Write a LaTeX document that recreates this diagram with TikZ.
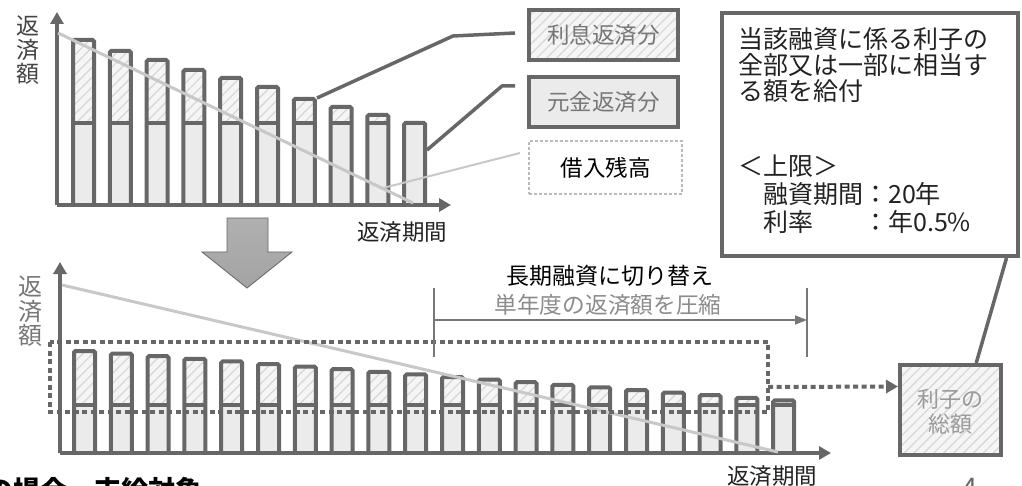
\documentclass[tikz,border=0pt]{standalone}
\usepackage{fontspec}
\setmainfont{Noto Sans CJK JP}
\usetikzlibrary{arrows.meta,patterns.meta,calc}
\definecolor{dk}{HTML}{676767}
\definecolor{hb}{HTML}{F5F5F5}
\definecolor{hl}{HTML}{D6D6D6}
\definecolor{pf}{HTML}{EBEBEB}
\definecolor{balc}{HTML}{C8C8C8}
\definecolor{tg}{HTML}{777777}
\definecolor{tl}{HTML}{9A9A9A}
\definecolor{bx}{HTML}{BBBBBB}
\definecolor{tk}{HTML}{222222}
\definecolor{ty}{HTML}{444444}
\begin{document}
\begin{tikzpicture}[x=1pt,y=-1pt,
  axis/.style={dk,line width=4pt,-{Triangle[length=12pt,width=13pt]}},
  barline/.style={dk,line width=4pt,rounded corners=1.5pt},
  hatch/.style={preaction={fill=hb},preaction={pattern={Lines[angle=45,distance=7pt,line width=1.2pt]},pattern color=hl}},
  prin/.style={fill=pf},
  lead/.style={dk,line width=3.5pt},
  bal/.style={balc,line width=3pt},
  dots/.style={dk,line width=4pt,dash pattern=on 5pt off 3.5pt},
  brk/.style={tg,line width=1.6pt},
  jp/.style={inner sep=0pt,font=\fontsize{22.5}{24}\selectfont},
  bigtxt/.style={inner sep=0pt,anchor=west,text=tk,font=\fontsize{25}{26}\selectfont},
  legbox/.style={draw=dk,line width=4pt,minimum width=149pt,minimum height=50pt,inner sep=0pt}
]
\useasboundingbox (0,0) rectangle (1022,486);
\fill[white] (0,0) rectangle (1022,486);

% ---------- top chart bars ----------
\foreach \t [count=\i from 0] in {38,49,58,68,76,85,97,105,113,121} {
  \pgfmathsetmacro\xl{71+36.8*\i}
  \path[hatch] (\xl+2,\t+2) rectangle (\xl+23,123);
  \path[prin] (\xl+2,123) rectangle (\xl+23,205);
  \draw[barline] (\xl+2,205) -- (\xl+2,\t+2) -- (\xl+23,\t+2) -- (\xl+23,205);
  \draw[dk,line width=4pt] (\xl+2,123) -- (\xl+23,123);
}
% axes top
\coordinate (o1) at (57,205);
\coordinate (y1) at (57,12);
\coordinate (x1) at (451,205);
\draw[axis] (o1) -- (y1);
\draw[axis] (o1) -- (x1);
% balance line top
\coordinate (ba1) at (58,33);
\coordinate (ba2) at (413,203);
\draw[bal] (ba1) -- (ba2);

% labels top chart
\node[jp,text=ty,align=center,font=\fontsize{23}{24}\selectfont] (ylab1) at (28,50) {返\\済\\額};
\node[jp,text=tk] (xlab1) at (402,232) {返済期間};

% legend boxes
\node[legbox,hatch] (lib) at (603.5,35) {};
\node[jp,text=tg] (libt) at (lib.center) {利息返済分};
\node[legbox,fill=pf] (gan) at (603.5,102.5) {};
\node[jp,text=tg] (gant) at (gan.center) {元金返済分};
\node[draw=bx,line width=2.5pt,dash pattern=on 3pt off 2pt,fill=white,minimum width=153pt,minimum height=53pt,inner sep=0pt] (kan) at (605.5,167.5) {};
\node[jp,text=black] (kant) at (kan.center) {借入残高};

% leaders
\coordinate (intpt) at (317,98);
\coordinate (k1) at (453,36);
\coordinate (l1e) at (515,33);
\draw[lead,line join=round] (intpt) -- (k1) -- (l1e);
\coordinate (prinpt) at (427,150);
\coordinate (k2) at (502,86);
\coordinate (l2e) at (515,86);
\draw[lead,line join=round] (prinpt) -- (k2) -- (l2e);
\coordinate (balpt) at (383,188);
\coordinate (l3e) at (520,153);
\draw[balc,line width=2pt] (balpt) -- (l3e);

% big box
\node[draw=dk,line width=4pt,minimum width=296pt,minimum height=243pt,inner sep=0pt] (big) at (870,134.5) {};
\node[bigtxt] (b1) at (738,39) {当該融資に係る利子の};
\node[bigtxt] (b2) at (738,65.5) {全部又は一部に相当す};
\node[bigtxt] (b3) at (738,91.5) {る額を給付};
\node[bigtxt] (b4) at (738,166) {＜上限＞};
\node[bigtxt] (b5) at (738,194) {　融資期間：20年};
\node[bigtxt] (b6) at (738,222) {　利率　　：年0.5\%};

% down block arrow
\shade[top color=gray!62,bottom color=gray!72,draw=dk,line width=0.8pt]
  (227,218) -- (268,218) -- (268,252) -- (292,252) -- (247,288) -- (202,252) -- (227,252) -- cycle;

% ---------- bottom chart bars ----------
\foreach \i in {0,...,19} {
  \pgfmathsetmacro\xl{72+36.8*\i}
  \pgfmathsetmacro\t{349+2.6*\i}
  \path[hatch] (\xl+2,\t+2) rectangle (\xl+23,405);
  \path[prin] (\xl+2,405) rectangle (\xl+23,453);
  \draw[barline] (\xl+2,453) -- (\xl+2,\t+2) -- (\xl+23,\t+2) -- (\xl+23,453);
  \draw[dk,line width=4pt] (\xl+2,405) -- (\xl+23,405);
}
\coordinate (o2) at (60,453);
\coordinate (y2) at (60,262);
\coordinate (x2) at (831,453);
\draw[axis] (o2) -- (y2);
\draw[axis] (o2) -- (x2);
\coordinate (bb1) at (62,285);
\coordinate (bb2) at (778,452);
\draw[bal] (bb1) -- (bb2);

% dotted area
\coordinate (dA) at (50,342);
\coordinate (dB) at (768,412);
\draw[dots] (dA) rectangle (dB);

\node[jp,text=tg,align=center,font=\fontsize{24}{24.5}\selectfont] (ylab2) at (30,311.5) {返\\済\\額};
\node[jp,text=tk] (xlab2) at (772,476) {返済期間};

% bracket
\coordinate (brL) at (434,320);
\coordinate (brR) at (807,320);
\coordinate (brLt) at (434,288);
\coordinate (brLb) at (434,357);
\coordinate (brRt) at (807,288);
\coordinate (brRb) at (807,357);
\draw[brk] (brLt) -- (brLb);
\draw[brk] (brRt) -- (brRb);
\draw[brk,-{Triangle[length=12pt,width=9pt]}] (brL) -- (brR);
\node[jp,text=black,font=\fontsize{23}{24}\selectfont] (sw) at (610,276) {長期融資に切り替え};
\node[jp,text=gray!90,font=\fontsize{22.7}{24}\selectfont] (cmp) at (608,305) {単年度の返済額を圧縮};

% interest total box
\node[draw=dk,line width=4pt,minimum width=101pt,minimum height=90pt,inner sep=0pt,hatch] (sum) at (950.5,410) {};
\node[jp,text=tl,align=center,font=\fontsize{22}{25}\selectfont] (sumt) at (950.5,412) {利子の\\総額};
\coordinate (dr) at (768,387);
\draw[dots,-{Triangle[length=12pt,width=13pt]}] (dr) -- ($(sum.north west)!0.25!(sum.south west)$);
\draw[lead] ($(big.south west)!0.955!(big.south east)$) -- ($(sum.north west)!0.745!(sum.north east)$);

% cut-off texts at the bottom edge
\node[inner sep=0pt,anchor=west,text=black,font=\bfseries\fontsize{27}{28}\selectfont] (cut) at (-14,490) {の場合、支給対象};
\node[inner sep=0pt,text=gray!80!black,font=\fontsize{27}{28}\selectfont] (pg) at (970,488) {4};
\end{tikzpicture}
\end{document}
